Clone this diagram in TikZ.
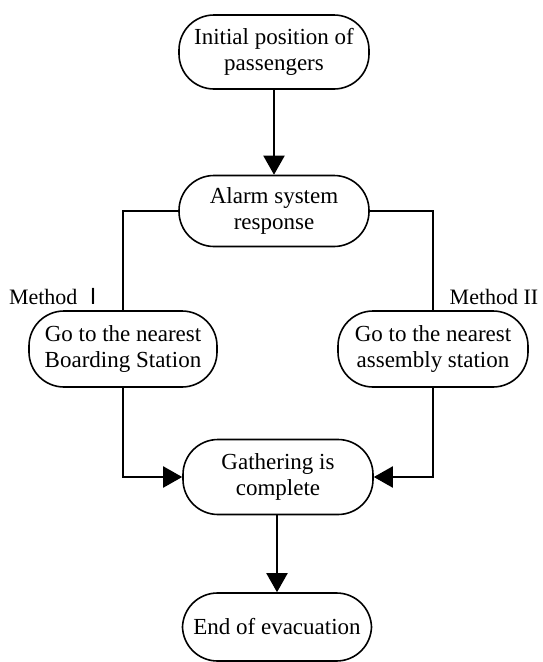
\documentclass[tikz,border=0pt]{standalone}
\usepackage{fontspec}
\setmainfont{Liberation Serif}
\newfontfamily\cjkfont{Noto Sans CJK SC}
\usetikzlibrary{arrows.meta}
\begin{document}
\begin{tikzpicture}[x=1pt,y=-1pt,
  stadium/.style={draw,line width=1.6pt,rounded corners=35pt,align=center,
    minimum width=190pt,minimum height=74pt,inner sep=0pt,
    font=\fontsize{23}{26}\selectfont},
  conn/.style={line width=2pt},
  arr/.style={line width=2pt,-{Triangle[width=21pt,length=19pt]}},
  lbl/.style={font=\fontsize{22}{26}\selectfont}]
\useasboundingbox (0,0) rectangle (542,662);
\node[stadium] (n1) at (274,52) {Initial position of\\passengers};
\node[stadium,minimum height=71pt] (n2) at (274,211) {Alarm system\\response};
\node[stadium,minimum width=188pt,minimum height=76pt] (m1) at (123,349) {Go to the nearest\\Boarding Station};
\node[stadium,minimum height=76pt] (m2) at (433,349) {Go to the nearest\\assembly station};
\node[stadium,minimum height=75pt] (g) at (278,477) {Gathering is\\complete};
\node[stadium,minimum width=189pt,minimum height=68pt] (e) at (277,627) {End of evacuation};
\node[lbl] (l1) at (57,297) {Method {\cjkfont Ⅰ}};
\node[lbl] (l2) at (494,297) {Method II};
\draw[arr] (n1) -- (n2);
\draw[conn] (n2.west) -| (m1.north);
\draw[conn] (n2.east) -| (m2.north);
\draw[arr] (m1.south) |- (g.west);
\draw[arr] (m2.south) |- (g.east);
\draw[arr] (g.south -| e.north) -- (e.north);
\end{tikzpicture}
\end{document}
